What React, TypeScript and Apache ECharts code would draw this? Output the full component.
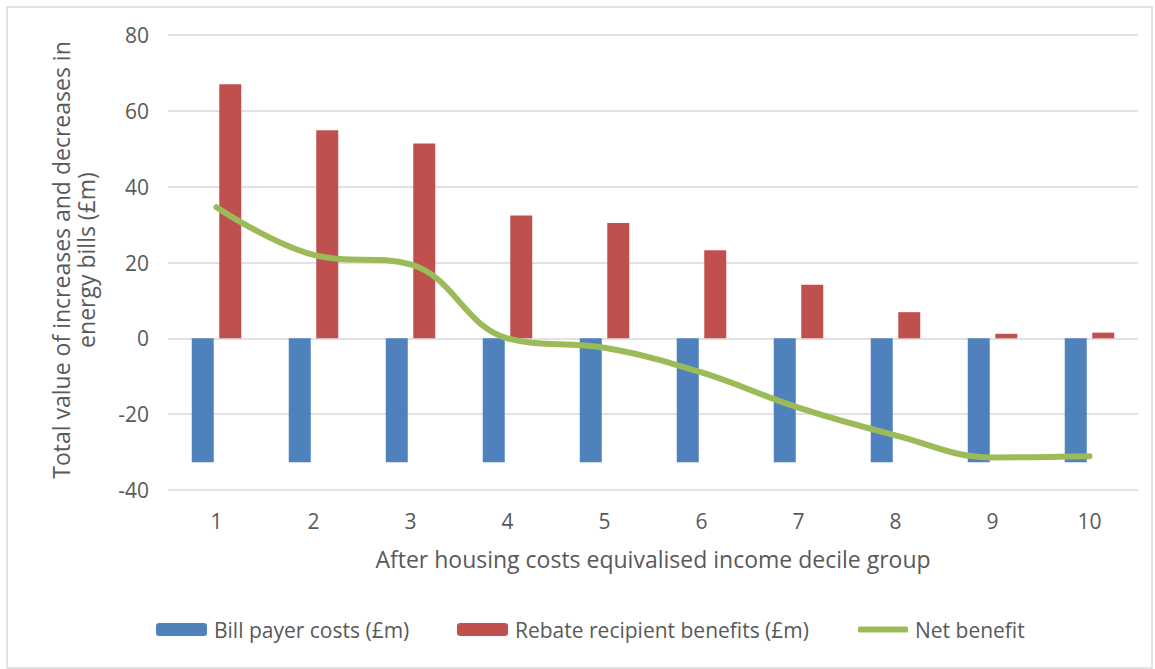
import React, { useEffect, useRef } from "react";
import * as echarts from "echarts";

const categories = ["1", "2", "3", "4", "5", "6", "7", "8", "9", "10"];
const billPayerCosts = [-32.7, -32.7, -32.7, -32.7, -32.7, -32.7, -32.7, -32.7, -32.7, -32.7];
const rebateBenefits = [67.0, 54.9, 51.4, 32.4, 30.4, 23.2, 14.1, 6.9, 1.2, 1.5];
const netBenefit = [34.6, 22.0, 19.5, 0.0, -2.5, -9.0, -18.3, -25.6, -31.4, -31.1];
const yTicks = { min: -40, max: 80, interval: 20 };

const seriesNames = ["Bill payer costs (£m)", "Rebate recipient benefits (£m)", "Net benefit"];
const yTitleLines = ["Total value of increases and decreases in", "energy bills (£m)"];
const xTitle = "After housing costs equivalised income decile group";

const FONT = "'Open Sans', 'Noto Sans', sans-serif";
const TXT = "#595959";

export default function App() {
  const ref = useRef<HTMLDivElement>(null);
  useEffect(() => {
    if (!ref.current) return;
    const chart = echarts.init(ref.current, null, { renderer: "svg" });
    const legendBase = {
      top: 619,
      itemWidth: 51,
      itemHeight: 13,
      textStyle: { color: TXT, fontSize: 21, fontFamily: FONT, padding: [0, 0, 0, 2] },
      padding: 0,
      selectedMode: false,
    };
    chart.setOption({
      animation: false,
      backgroundColor: "#ffffff",
      textStyle: { fontFamily: FONT },
      grid: { left: 168, right: 17, top: 35, bottom: 179, containLabel: false },
      legend: [
        { ...legendBase, left: 156, data: [seriesNames[0]] },
        { ...legendBase, left: 457, data: [seriesNames[1]] },
        {
          ...legendBase,
          left: 858,
          itemWidth: 50,
          itemHeight: 6,
          icon: "roundRect",
          data: [{ name: seriesNames[2], itemStyle: { color: "#9bbb59" } }],
        },
      ],
      xAxis: {
        type: "category",
        data: categories,
        axisLine: { show: false },
        axisTick: { show: false },
        axisLabel: { color: TXT, fontSize: 21, fontFamily: FONT, margin: 20 },
        name: xTitle,
        nameLocation: "middle",
        nameGap: 57,
        nameTextStyle: { color: TXT, fontSize: 23, fontFamily: FONT },
      },
      yAxis: {
        type: "value",
        min: yTicks.min,
        max: yTicks.max,
        interval: yTicks.interval,
        axisLine: { show: false },
        axisTick: { show: false },
        axisLabel: { color: TXT, fontSize: 21, fontFamily: FONT, margin: 19 },
        splitLine: { lineStyle: { color: "#d9d9d9", width: 1.5 } },
      },
      graphic: [
        {
          type: "rect",
          shape: { x: 7, y: 7, width: 1145, height: 661 },
          style: { fill: "none", stroke: "#d9d9d9", lineWidth: 1.5 },
          silent: true,
        },
        {
          type: "text",
          x: 73,
          y: 260,
          rotation: Math.PI / 2,
          style: {
            text: yTitleLines.join("\n"),
            fill: TXT,
            fontSize: 23,
            fontFamily: FONT,
            align: "center",
            verticalAlign: "middle",
            lineHeight: 25,
          },
        },
      ],
      series: [
        {
          name: seriesNames[0],
          type: "bar",
          data: billPayerCosts,
          barWidth: 22,
          barGap: "25%",
          itemStyle: { color: "#4f81bd" },
        },
        {
          name: seriesNames[1],
          type: "bar",
          data: rebateBenefits,
          barWidth: 22,
          barGap: "25%",
          itemStyle: { color: "#c0504d" },
        },
        {
          name: seriesNames[2],
          type: "line",
          data: netBenefit,
          smooth: 0.4,
          symbol: "none",
          lineStyle: { color: "#9bbb59", width: 6, cap: "round" },
          itemStyle: { color: "#9bbb59" },
          z: 5,
        },
      ],
    });
    return () => chart.dispose();
  }, []);
  return (
    <div
      ref={ref}
      style={{ position: "fixed", left: 0, top: 0, width: 1155, height: 669 }}
    />
  );
}
